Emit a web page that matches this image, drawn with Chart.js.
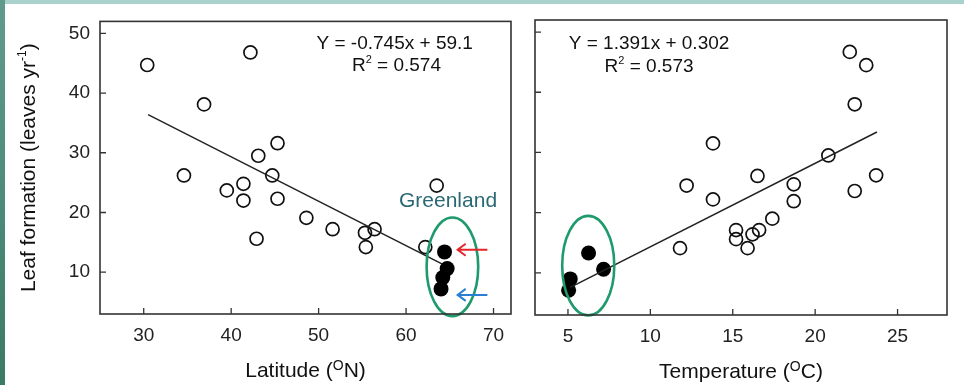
<!DOCTYPE html>
<html>
<head>
<meta charset="utf-8">
<script src="https://cdn.jsdelivr.net/npm/chart.js@4.4.0/dist/chart.umd.min.js"></script>
<style>
  html, body { margin: 0; padding: 0; background: #fff; }
  body { width: 964px; height: 385px; position: relative; overflow: hidden; }
  #leftWrap { position: absolute; left: 0; top: 0; width: 522px; height: 385px; }
  #rightWrap { position: absolute; left: 522px; top: 0; width: 442px; height: 385px; }
  .edgeL { position: absolute; left: 0; top: 0; width: 5px; height: 385px; background: linear-gradient(#5f9c8e, #3b7a66); z-index: 5; }
  .edgeT { position: absolute; left: 0; top: 0; width: 964px; height: 4px; background: #a9d2cc; z-index: 5; }
</style>
</head>
<body>
<div class="edgeT"></div>
<div class="edgeL"></div>
<div id="leftWrap"><canvas id="latChart" width="522" height="385"></canvas></div>
<div id="rightWrap"><canvas id="tempChart" width="442" height="385"></canvas></div>
<script>
const FONT = "'Liberation Sans', Arial, sans-serif";

// shared y axis (leaf formation, leaves per year)
const leafTicks = [10, 20, 30, 40, 50];

// left panel: latitude
const latTicks = [30, 40, 50, 60, 70];
const latOpen = [30.4, 42.2, 36.9, 34.6, 39.5, 41.4, 41.4, 43.1, 45.3, 44.7, 45.3, 42.9, 48.6, 51.6, 55.3, 56.4, 55.4, 62.2, 63.5];
const latOpenLeaves = [44.7, 46.8, 38.1, 26.2, 23.7, 24.8, 22.0, 29.5, 31.6, 26.2, 22.3, 15.6, 19.1, 17.2, 16.6, 17.2, 14.2, 14.2, 24.5];
const latGreenland = [64.4, 64.7, 64.2, 64.0];
const latGreenlandLeaves = [13.4, 10.6, 9.1, 7.2];
const latFit = [30.5, 64.1];
const latFitLeaves = [36.4, 11.4];

// right panel: temperature
const tempTicks = [5, 10, 15, 20, 25];
const tempOpen = [22.1, 23.1, 22.4, 13.8, 12.2, 13.8, 16.5, 18.7, 18.7, 20.8, 22.4, 23.7, 17.4, 15.2, 15.2, 16.2, 16.6, 15.9, 11.8];
const tempOpenLeaves = [46.7, 44.5, 38.0, 31.5, 24.5, 22.2, 26.1, 24.7, 21.9, 29.5, 23.6, 26.2, 19.0, 17.1, 15.6, 16.4, 17.1, 14.1, 14.1];
const tempGreenland = [6.25, 7.16, 5.14, 5.04];
const tempGreenlandLeaves = [13.3, 10.6, 9.0, 7.1];
const tempFit = [5.14, 23.75];
const tempFitLeaves = [7.6, 33.4];

const pts = (xs, ys) => xs.map((x, i) => ({x, y: ys[i]}));

// draw a run of text pieces, some raised as superscripts, centred on cx
function richText(ctx, parts, cx, cy) {
    let w = 0;
    parts.forEach(p => { ctx.font = `${p.size}px ${FONT}`; w += ctx.measureText(p.t).width; });
    let x = cx - w / 2;
    ctx.textAlign = "left";
    ctx.textBaseline = "alphabetic";
    parts.forEach(p => {
        ctx.font = `${p.size}px ${FONT}`;
        ctx.fillText(p.t, x, cy - (p.rise || 0));
        x += ctx.measureText(p.t).width;
    });
}

const framePlugin = {
    id: "frame",
    afterDraw(chart, args, opts) {
        const {ctx, chartArea: a, scales} = chart;
        ctx.save();
        ctx.strokeStyle = "#333";
        ctx.lineWidth = 1.6;
        ctx.strokeRect(a.left, a.top, a.right - a.left, a.bottom - a.top);
        ctx.lineWidth = 1.3;
        ctx.beginPath();
        scales.x.ticks.forEach(t => {
            const px = scales.x.getPixelForValue(t.value);
            ctx.moveTo(px, a.bottom); ctx.lineTo(px, a.bottom - 6);
        });
        scales.y.ticks.forEach(t => {
            const py = scales.y.getPixelForValue(t.value);
            ctx.moveTo(a.left, py); ctx.lineTo(a.left + 6, py);
        });
        ctx.stroke();

        ctx.fillStyle = "#111";
        const cx = (a.left + a.right) / 2;
        richText(ctx, opts.xTitle, cx, a.bottom + 63);
        if (opts.yTitle) {
            ctx.save();
            ctx.translate(28, (a.top + a.bottom) / 2);
            ctx.rotate(-Math.PI / 2);
            richText(ctx, opts.yTitle, 0, 7);
            ctx.restore();
        }
        ctx.restore();
    }
};

const notesPlugin = {
    id: "notes",
    afterDatasetsDraw(chart, args, opts) {
        const {ctx, scales: {x, y}} = chart;
        ctx.save();
        // equation text
        ctx.fillStyle = "#111";
        opts.lines.forEach(l => richText(ctx, l.parts, x.getPixelForValue(l.x), y.getPixelForValue(l.y)));
        // ellipse round the Greenland sites
        const e = opts.ellipse;
        const ex = x.getPixelForValue(e.x), ey = y.getPixelForValue(e.y);
        const rx = Math.abs(x.getPixelForValue(e.x + e.rx) - ex);
        const ry = Math.abs(y.getPixelForValue(e.y + e.ry) - ey);
        ctx.strokeStyle = "#1f9a6c";
        ctx.lineWidth = 2.6;
        ctx.beginPath();
        ctx.ellipse(ex, ey, rx, ry, 0, 0, Math.PI * 2);
        ctx.stroke();
        if (opts.label) {
            ctx.fillStyle = "#2a6874";
            ctx.font = `21px ${FONT}`;
            ctx.textAlign = "center";
            ctx.textBaseline = "middle";
            ctx.fillText(opts.label.t, x.getPixelForValue(opts.label.x), y.getPixelForValue(opts.label.y));
        }
        (opts.arrows || []).forEach(ar => {
            const y0 = y.getPixelForValue(ar.y);
            const x0 = x.getPixelForValue(ar.x0), x1 = x.getPixelForValue(ar.x1);
            ctx.strokeStyle = ar.color;
            ctx.lineWidth = 2;
            ctx.beginPath();
            ctx.moveTo(x1, y0); ctx.lineTo(x0, y0);
            ctx.moveTo(x0 + 8, y0 - 6); ctx.lineTo(x0, y0); ctx.lineTo(x0 + 8, y0 + 6);
            ctx.stroke();
        });
        ctx.restore();
    }
};

function makeChart(id, cfg) {
    const tickFont = {family: FONT, size: 19};
    return new Chart(document.getElementById(id), {
        type: "scatter",
        data: {
            datasets: [
                {
                    type: "line",
                    data: cfg.fit,
                    borderColor: "#222",
                    borderWidth: 1.5,
                    pointRadius: 0,
                    fill: false
                },
                {
                    data: cfg.open,
                    pointRadius: 6.5,
                    pointBorderWidth: 1.7,
                    pointBorderColor: "#111",
                    pointBackgroundColor: "rgba(255,255,255,0)"
                },
                {
                    data: cfg.green,
                    pointRadius: 7.5,
                    pointBorderWidth: 0,
                    pointBackgroundColor: "#000"
                }
            ]
        },
        options: {
            responsive: false,
            animation: false,
            devicePixelRatio: 1,
            layout: {padding: {top: cfg.top, right: cfg.right, left: 0, bottom: 0}},
            plugins: {
                legend: {display: false},
                tooltip: {enabled: false},
                frame: {xTitle: cfg.xTitle, yTitle: cfg.yTitle},
                notes: cfg.notes
            },
            scales: {
                x: {
                    type: "linear",
                    min: cfg.xMin, max: cfg.xMax,
                    afterBuildTicks: s => { s.ticks = cfg.xTicks.map(v => ({value: v})); },
                    afterFit: s => { s.height = cfg.xHeight; },
                    grid: {display: false, drawTicks: false},
                    border: {display: false},
                    ticks: {color: "#222", font: tickFont, padding: 10, autoSkip: false, maxRotation: 0}
                },
                y: {
                    type: "linear",
                    min: 3, max: 52,
                    afterBuildTicks: s => { s.ticks = leafTicks.map(v => ({value: v})); },
                    afterFit: s => { s.width = cfg.yWidth; },
                    grid: {display: false, drawTicks: false},
                    border: {display: false},
                    ticks: {display: cfg.yLabels, color: "#222", font: tickFont, padding: 10, autoSkip: false}
                }
            }
        },
        plugins: [framePlugin, notesPlugin]
    });
}

makeChart("latChart", {
    fit: pts(latFit, latFitLeaves),
    open: pts(latOpen, latOpenLeaves),
    green: pts(latGreenland, latGreenlandLeaves),
    xMin: 25, xMax: 72, xTicks: latTicks,
    top: 19, right: 11, xHeight: 71, yWidth: 100, yLabels: true,
    xTitle: [{t: "Latitude (", size: 21}, {t: "O", size: 14, rise: 7}, {t: "N)", size: 21}],
    yTitle: [{t: "Leaf formation (leaves yr", size: 21}, {t: "-1", size: 12, rise: 9}, {t: ")", size: 21}],
    notes: {
        lines: [
            {x: 58.7, y: 47.3, parts: [{t: "Y = -0.745x + 59.1", size: 19}]},
            {x: 58.9, y: 43.7, parts: [{t: "R", size: 19}, {t: "2", size: 11, rise: 8}, {t: " = 0.574", size: 19}]}
        ],
        ellipse: {x: 65.3, y: 10.9, rx: 2.95, ry: 8.26},
        label: {t: "Greenland", x: 64.8, y: 21.9},
        arrows: [
            {color: "#e3262b", y: 13.75, x0: 65.9, x1: 69.3},
            {color: "#2b7fd2", y: 6.2, x0: 65.9, x1: 69.3}
        ]
    }
});

makeChart("tempChart", {
    fit: pts(tempFit, tempFitLeaves),
    open: pts(tempOpen, tempOpenLeaves),
    green: pts(tempGreenland, tempGreenlandLeaves),
    xMin: 3, xMax: 28, xTicks: tempTicks,
    top: 20, right: 17, xHeight: 70, yWidth: 13, yLabels: false,
    xTitle: [{t: "Temperature (", size: 21}, {t: "O", size: 14, rise: 7}, {t: "C)", size: 21}],
    yTitle: null,
    notes: {
        lines: [
            {x: 9.92, y: 47.2, parts: [{t: "Y = 1.391x + 0.302", size: 19}]},
            {x: 9.92, y: 43.3, parts: [{t: "R", size: 19}, {t: "2", size: 11, rise: 8}, {t: " = 0.573", size: 19}]}
        ],
        ellipse: {x: 6.23, y: 11.2, rx: 1.58, ry: 8.26}
    }
});
</script>
</body>
</html>
